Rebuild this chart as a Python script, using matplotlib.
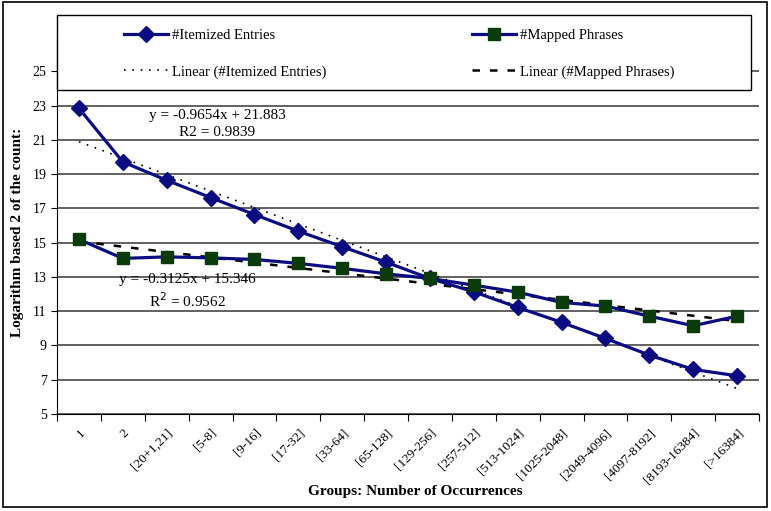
import numpy as np
import matplotlib
matplotlib.use("Agg")
import matplotlib.pyplot as plt
from matplotlib.patches import Rectangle

categories = ["1", "2", "[20+1,21]", "[5-8]", "[9-16]", "[17-32]", "[33-64]", "[65-128]",
              "[129-256]", "[257-512]", "[513-1024]", "[1025-2048]", "[2049-4096]",
              "[4097-8192]", "[8193-16384]", "[>16384]"]
itemized = [22.84, 19.71, 18.64, 17.63, 16.64, 15.67, 14.76, 13.86, 12.91, 12.13,
            11.22, 10.35, 9.41, 8.44, 7.60, 7.23]
mapped = [15.19, 14.08, 14.17, 14.11, 14.02, 13.79, 13.50, 13.18, 12.91, 12.52,
          12.11, 11.51, 11.30, 10.71, 10.15, 10.71]
yticks = [5, 7, 9, 11, 13, 15, 17, 19, 21, 23, 25]

plt.rcParams['font.family'] = ['Liberation Serif', 'DejaVu Serif']

fig = plt.figure(figsize=(7.71, 5.11), dpi=100)
ax = fig.add_axes([57/771, 1-414/511, 702/771, (414-37)/511])

x = np.arange(1, len(categories) + 1)
navy = '#0c0c82'
l1, = ax.plot(x, itemized, color=navy, lw=2.3, marker='D', ms=8.5,
              mfc=navy, mec=navy, label='#Itemized Entries', zorder=4)
l2, = ax.plot(x, mapped, color=navy, lw=2.3, marker='s', ms=9,
              mfc='#0b3a0b', mec='#0b3a0b', label='#Mapped Phrases', zorder=4)

p1 = np.polyfit(x, itemized, 1)
p2 = np.polyfit(x, mapped, 1)
t1, = ax.plot(x, np.polyval(p1, x), color='black', lw=1.2, ls=(0, (1, 4)),
              label='Linear (#Itemized Entries)', zorder=3)
t2, = ax.plot(x, np.polyval(p2, x), color='black', lw=1.8, ls=(0, (3, 4)),
              label='Linear (#Mapped Phrases)', zorder=3)

ax.set_xlim(0.5, len(categories) + 0.5)
ax.set_ylim(5, 27)
ax.set_yticks(yticks)
ax.tick_params(axis='y', labelsize=10, length=4, direction='out')
ax.yaxis.grid(True, color='#555555', lw=1.3)
ax.set_axisbelow(True)

ax.set_xticks(np.arange(0.5, len(categories) + 1, 1))
ax.set_xticklabels([])
ax.tick_params(axis='x', which='major', length=5, direction='out')
ax.set_xticks(x, minor=True)
ax.set_xticklabels(categories, minor=True, rotation=45, ha='right',
                   rotation_mode='anchor', fontsize=9.5)
ax.tick_params(axis='x', which='minor', length=0, pad=9)

for s in ['top', 'right']:
    ax.spines[s].set_visible(False)
ax.spines['left'].set_color('black')
ax.spines['bottom'].set_color('black')

fig.text(415/771, 1-492/511, 'Groups: Number of Occurrences', fontsize=11,
         fontweight='bold', ha='center', va='center')
fig.text(18/771, 1-232/511, 'Logarithm based 2 of the count:', fontsize=11,
         fontweight='bold', ha='center', va='center', rotation=90)

ax.text(217/771, 1-115/511, 'y = -0.9654x + 21.883', transform=fig.transFigure,
        ha='center', va='center', fontsize=11)
ax.text(217/771, 1-133/511, 'R2 = 0.9839', transform=fig.transFigure,
        ha='center', va='center', fontsize=11)
ax.text(187/771, 1-279/511, 'y = -0.3125x + 15.346', transform=fig.transFigure,
        ha='center', va='center', fontsize=11)
ax.text(187/771, 1-301/511, r'R$^2$ = 0.9562', transform=fig.transFigure,
        ha='center', va='center', fontsize=11)

# legend frame
fig.patches.append(Rectangle((57/771, 1-90/511), 694/771, 75/511,
                             transform=fig.transFigure, facecolor='white',
                             edgecolor='black', lw=1.0, zorder=9))
leg = fig.legend(handles=[l1, t1, l2, t2], ncol=2,
                 bbox_to_anchor=(124/771, 1-53.5/511),
                 loc='center left', frameon=False,
                 fontsize=10.5, handlelength=3.0, labelspacing=1.6,
                 borderaxespad=0, borderpad=0, handletextpad=0.3,
                 columnspacing=10.0)
leg.set_zorder(10)

fig.patches.append(Rectangle((3/771, 1-507/511), 764/771, 505/511,
                             transform=fig.transFigure, fill=False,
                             edgecolor='black', lw=1.2))

fig.savefig('out.png', dpi=100)
